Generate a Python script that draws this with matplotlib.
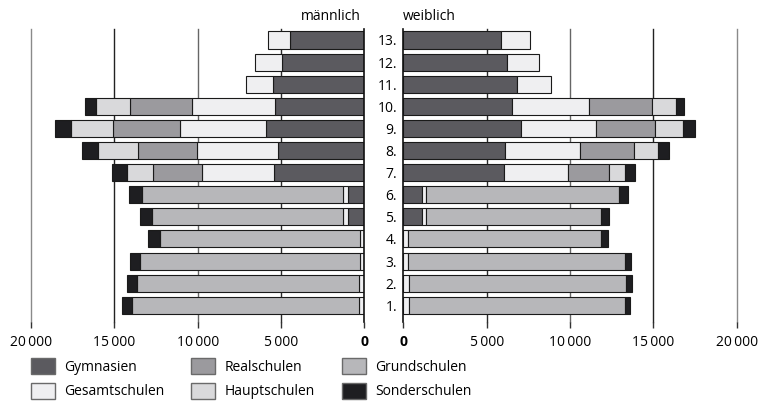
import numpy as np
import matplotlib
matplotlib.use('Agg')
import matplotlib.pyplot as plt
from matplotlib.patches import Patch

plt.rcParams['font.family'] = ['Open Sans', 'DejaVu Sans']
plt.rcParams['font.size'] = 10

# grades 1. .. 13.
grades = ['%d.' % g for g in range(1, 14)]

schools = ['Gymnasien', 'Gesamtschulen', 'Realschulen', 'Grundschulen',
           'Hauptschulen', 'Sonderschulen']
colors = {'Gymnasien': '#5b5a5f', 'Gesamtschulen': '#efeff1',
          'Realschulen': '#9b9a9e', 'Grundschulen': '#b7b7ba',
          'Hauptschulen': '#d9d9db', 'Sonderschulen': '#1e1e21'}

# male pupils per grade (1..13)
m_gym = [0, 0, 0, 0, 960, 960, 5400, 5180, 5900, 5340, 5500, 4960, 4460]
m_gesamt = [300, 300, 260, 260, 300, 300, 4320, 4880, 5160, 4980, 1620, 1600, 1340]
m_real = [0, 0, 0, 0, 0, 0, 2940, 3500, 4000, 3740, 0, 0, 0]
m_grund = [13620, 13320, 13200, 12000, 11500, 12100, 0, 0, 0, 0, 0, 0, 0]
m_haupt = [0, 0, 0, 0, 0, 0, 1600, 2440, 2560, 2040, 0, 0, 0]
m_sonder = [640, 620, 620, 700, 680, 740, 880, 920, 940, 660, 0, 0, 0]

# female pupils per grade (1..13)
f_gym = [0, 0, 0, 0, 1100, 1100, 6020, 6080, 7060, 6520, 6800, 6240, 5840]
f_gesamt = [360, 340, 300, 300, 260, 260, 3840, 4540, 4480, 4620, 2060, 1880, 1780]
f_real = [0, 0, 0, 0, 0, 0, 2480, 3200, 3560, 3760, 0, 0, 0]
f_grund = [12920, 13020, 12980, 11540, 10520, 11600, 0, 0, 0, 0, 0, 0, 0]
f_haupt = [0, 0, 0, 0, 0, 0, 960, 1480, 1700, 1460, 0, 0, 0]
f_sonder = [320, 360, 360, 440, 440, 500, 600, 620, 700, 480, 0, 0, 0]

male = [m_gym, m_gesamt, m_real, m_grund, m_haupt, m_sonder]
female = [f_gym, f_gesamt, f_real, f_grund, f_haupt, f_sonder]

ticks = [0, 5000, 10000, 15000, 20000]
tick_labels = ['0', '5\u2009000', '10\u2009000', '15\u2009000', '20\u2009000']
grid_colors = {5000: '#2a2a2a', 10000: '#666666', 15000: '#222222', 20000: '#8a8a8a'}

W, H = 760, 405
fig = plt.figure(figsize=(W / 100, H / 100), dpi=100)
ax_l = fig.add_axes([31 / W, 1 - 322 / H, 333.3 / W, 293.5 / H])
ax_r = fig.add_axes([403.3 / W, 1 - 322 / H, 333.3 / W, 293.5 / H])

y = np.arange(1, 14)


def draw_side(ax, data):
    left = np.zeros(13)
    for name, vals in zip(schools, data):
        vals = np.array(vals, dtype=float)
        m = vals > 0
        ax.barh(y[m], vals[m], left=left[m], height=0.77,
                color=colors[name], edgecolor='#1a1a1a', linewidth=0.8, zorder=2)
        left += vals
    for t in ticks[1:]:
        ax.axvline(t, color=grid_colors[t], lw=1.0, zorder=0, clip_on=False)
    ax.set_xlim(0, 20000)
    ax.set_ylim(0.245, 13.52)
    ax.set_xticks(ticks)
    ax.set_xticklabels(tick_labels)
    ax.get_xticklabels()[0].set_fontweight('bold')
    ax.tick_params(axis='x', length=4, width=1, color='#333333', pad=5)
    for s in ['top', 'bottom', 'left', 'right']:
        ax.spines[s].set_visible(False)


draw_side(ax_l, male)
draw_side(ax_r, female)

ax_l.invert_xaxis()
ax_l.set_yticks([])
ax_l.spines['right'].set_visible(True)
ax_l.spines['right'].set_color('#111111')
ax_l.spines['right'].set_linewidth(1.2)

ax_r.set_yticks(y)
ax_r.set_yticklabels(grades)
ax_r.tick_params(axis='y', length=0, pad=4.5)
ax_r.spines['left'].set_visible(True)
ax_r.spines['left'].set_color('#111111')
ax_r.spines['left'].set_linewidth(1.2)

fig.text(361 / W, 1 - 16 / H, 'männlich', ha='right', va='center', fontsize=10)
fig.text(403 / W, 1 - 16 / H, 'weiblich', ha='left', va='center', fontsize=10)

legend_order = ['Gymnasien', 'Gesamtschulen', 'Realschulen', 'Hauptschulen',
                'Grundschulen', 'Sonderschulen']
handles = [Patch(facecolor=colors[n], edgecolor='#6a6a6a', linewidth=1.0, label=n)
           for n in legend_order]
fig.legend(handles=handles, loc='upper left', bbox_to_anchor=(31 / W, 1 - 358 / H),
           ncol=3, frameon=False, borderpad=0, borderaxespad=0,
           handlelength=1.73, handleheight=1.37, handletextpad=0.65,
           columnspacing=1.95, labelspacing=0.6, fontsize=10)

fig.savefig('out.png', dpi=100)
